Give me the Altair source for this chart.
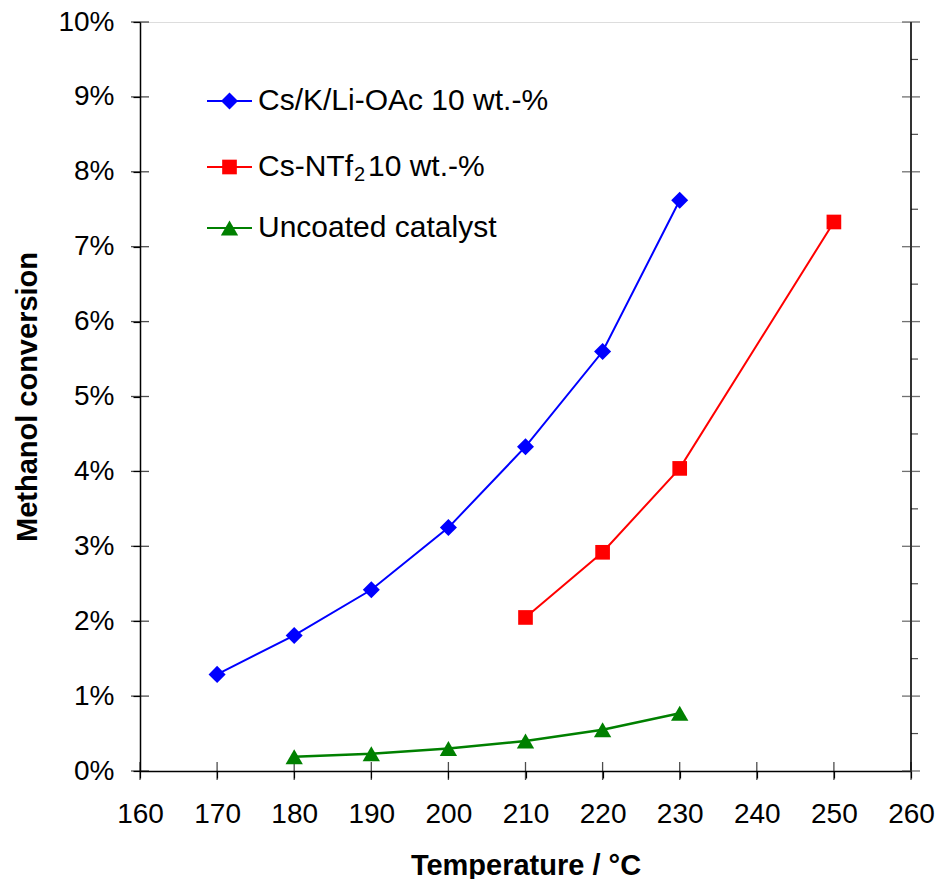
import altair as alt
import pandas as pd

# ---- data ----
temp_oac = [170, 180, 190, 200, 210, 220, 230]
conv_oac = [1.29, 1.81, 2.42, 3.25, 4.33, 5.60, 7.62]

temp_ntf = [210, 220, 230, 250]
conv_ntf = [2.05, 2.92, 4.04, 7.33]

temp_unc = [180, 190, 200, 210, 220, 230]
conv_unc = [0.19, 0.23, 0.30, 0.40, 0.55, 0.77]

x_major = list(range(160, 261, 10))
x_all = list(range(160, 261, 5))
y_major = list(range(0, 11))
y_minor = [v + 0.5 for v in range(0, 10)]
y_all = sorted(y_major + y_minor)

FONT = "Liberation Sans"
BLUE, RED, GREEN = "#0000FF", "#FF0000", "#008000"

xs = alt.Scale(domain=[160, 260], nice=False, zero=False)
ys = alt.Scale(domain=[0, 10], nice=False)

df_oac = pd.DataFrame({"t": temp_oac, "c": conv_oac})
df_ntf = pd.DataFrame({"t": temp_ntf, "c": conv_ntf})
df_unc = pd.DataFrame({"t": temp_unc, "c": conv_unc})

x_axis = alt.Axis(
    values=x_all, tickSize=7, tickColor="black", tickWidth=1.2,
    labelExpr="datum.value % 10 == 0 ? datum.value : ''",
    labelFont=FONT, labelFontSize=28, labelColor="black", labelPadding=22,
    domainColor="black", domainWidth=1.5, grid=False,
    title="Temperature / °C", titleFont=FONT, titleFontSize=29, titleFontWeight="bold",
    titleColor="black", titleBaseline="alphabetic", titleY=103, labelFlush=False,
)
y_axis = alt.Axis(
    values=y_all, tickSize=7, tickColor="black", tickWidth=1.2,
    labelExpr="datum.value % 1 == 0 ? datum.value + '%' : ''",
    labelFont=FONT, labelFontSize=28, labelColor="black", labelPadding=19,
    domainColor="black", domainWidth=1.5, grid=False,
    title="Methanol conversion", titleFont=FONT, titleFontSize=29, titleFontWeight="bold",
    titleColor="black", titleBaseline="alphabetic", titleX=-104, labelFlush=False,
)

base_axes = alt.Chart(pd.DataFrame({"t": [160], "c": [0]})).mark_point(opacity=0).encode(
    x=alt.X("t:Q", scale=xs, axis=x_axis),
    y=alt.Y("c:Q", scale=ys, axis=y_axis),
)

def series(df, color, shape, size, sw):
    line = alt.Chart(df).mark_line(color=color, strokeWidth=sw).encode(
        x=alt.X("t:Q", scale=xs), y=alt.Y("c:Q", scale=ys))
    pts = alt.Chart(df).mark_point(shape=shape, filled=True, color=color, size=size, opacity=1).encode(
        x=alt.X("t:Q", scale=xs), y=alt.Y("c:Q", scale=ys))
    return line + pts

SZ_D, SZ_S, SZ_T = 290, 215, 300

s1 = series(df_oac, BLUE, "diamond", SZ_D, 2)
s2 = series(df_ntf, RED, "square", SZ_S, 2)
s3 = series(df_unc, GREEN, "triangle-up", SZ_T, 2.5)

# crossing major ticks
xt = alt.Chart(pd.DataFrame({"t": x_major, "c": [0] * len(x_major)})).mark_tick(
    orient="vertical", size=18, thickness=1.3, color="black").encode(
    x=alt.X("t:Q", scale=xs), y=alt.Y("c:Q", scale=ys))
yt_left = alt.Chart(pd.DataFrame({"t": [160] * len(y_major), "c": y_major})).mark_tick(
    orient="horizontal", size=18, thickness=1.3, color="black").encode(
    x=alt.X("t:Q", scale=xs), y=alt.Y("c:Q", scale=ys))
yt_right = alt.Chart(pd.DataFrame({"t": [260] * len(y_major), "c": y_major})).mark_tick(
    orient="horizontal", size=18, thickness=1.3, color="#333333").encode(
    x=alt.X("t:Q", scale=xs), y=alt.Y("c:Q", scale=ys))
yt_right_minor = alt.Chart(pd.DataFrame({"t": [260] * len(y_minor), "c": y_minor})).mark_tick(
    orient="horizontal", size=7, thickness=1.2, color="black", xOffset=3.5).encode(
    x=alt.X("t:Q", scale=xs), y=alt.Y("c:Q", scale=ys))
right_line = alt.Chart(pd.DataFrame({"t": [260]})).mark_rule(color="#333333", strokeWidth=2).encode(
    x=alt.X("t:Q", scale=xs))

# legend (manual)
leg_labels = ["Cs/K/Li-OAc 10 wt.-%", "Cs-NTf", "Uncoated catalyst"]
leg_colors = [BLUE, RED, GREEN]
leg_shapes = ["diamond", "square", "triangle-up"]
leg_sizes = [SZ_D, SZ_S, SZ_T]
leg_y = [79, 145, 206]

legend_layers = []
for lab, col, shp, sz, ly in zip(leg_labels, leg_colors, leg_shapes, leg_sizes, leg_y):
    d = pd.DataFrame({"lab": [lab]})
    legend_layers.append(alt.Chart(d).mark_rule(color=col, strokeWidth=2).encode(
        x=alt.value(67), x2=alt.value(112), y=alt.value(ly)))
    legend_layers.append(alt.Chart(d).mark_point(shape=shp, filled=True, color=col, size=sz, opacity=1).encode(
        x=alt.value(89.5), y=alt.value(ly)))
    legend_layers.append(alt.Chart(d).mark_text(align="left", baseline="middle", font=FONT, fontSize=30, color="black").encode(
        x=alt.value(118), y=alt.value(ly), text="lab:N"))
# subscript and rest of second entry
legend_layers.append(alt.Chart(pd.DataFrame({"lab": ["2"]})).mark_text(
    align="left", baseline="middle", font=FONT, fontSize=20, color="black").encode(
    x=alt.value(214), y=alt.value(leg_y[1] + 8), text="lab:N"))
legend_layers.append(alt.Chart(pd.DataFrame({"lab": ["10 wt.-%"]})).mark_text(
    align="left", baseline="middle", font=FONT, fontSize=30, color="black").encode(
    x=alt.value(228), y=alt.value(leg_y[1]), text="lab:N"))

chart = alt.layer(
    base_axes, right_line, xt, yt_left, yt_right, yt_right_minor, s3, s2, s1, *legend_layers
).properties(
    width=771, height=749,
    autosize=alt.AutoSizeParams(type="none"),
    padding={"left": 140, "top": 22, "right": 27, "bottom": 108},
).configure_view(stroke="#777777", strokeWidth=1.5).configure(background="white")

chart.save("out.html", embed_options={"renderer": "svg", "actions": False})
